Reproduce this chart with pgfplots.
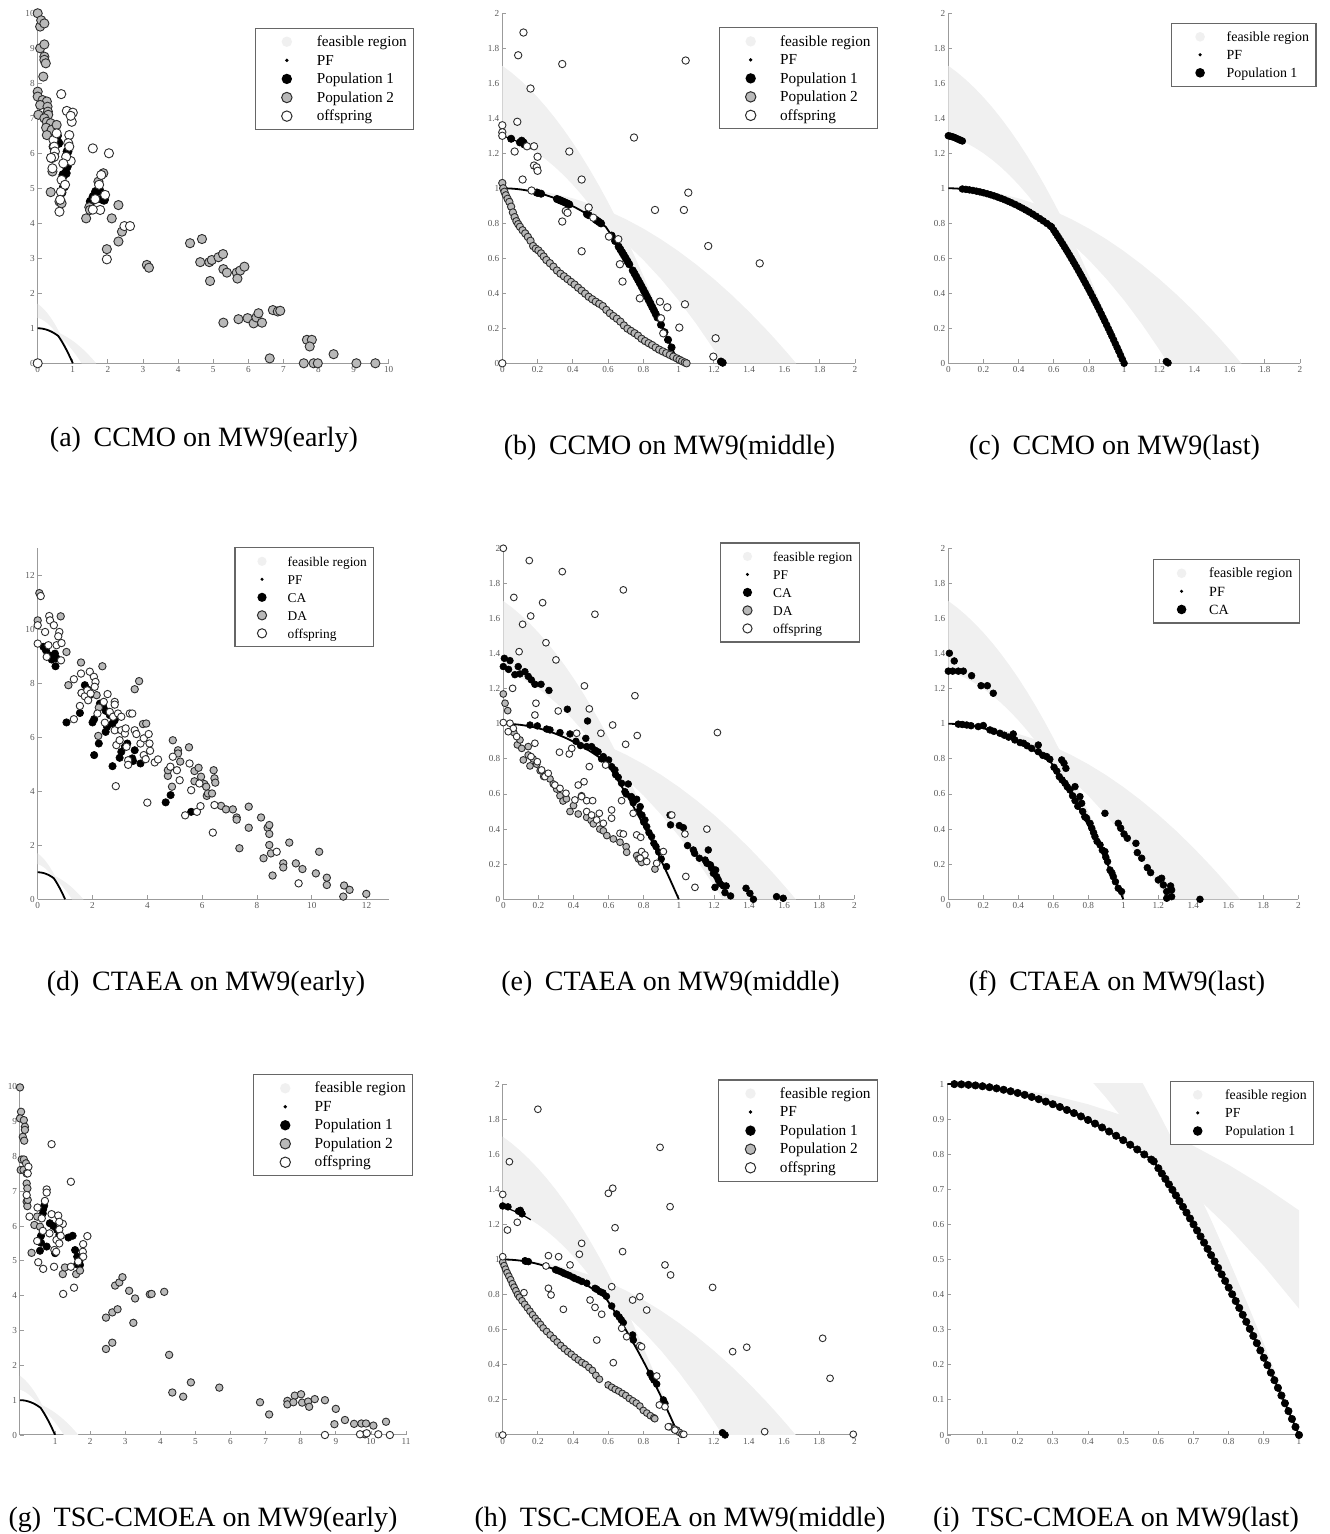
\documentclass[border=0pt]{standalone}
\usepackage{fontspec}
\setmainfont{Liberation Serif}
\usepackage{pgfplots}
\pgfplotsset{compat=1.18}
\usepackage{pgfplotstable}

\definecolor{feascol}{RGB}{240,240,240}
\definecolor{axcol}{RGB}{155,155,155}
\definecolor{tickcol}{RGB}{90,90,90}
\definecolor{p2col}{RGB}{185,185,185}
\definecolor{edgecol}{RGB}{45,45,45}

\pgfplotstableread{
x y
0 1
0.02 0.9997
0.04 0.999
0.06 0.9977
0.08 0.9959
0.10 0.9936
0.12 0.9908
0.14 0.9875
0.16 0.9836
0.18 0.9793
0.20 0.9744
0.22 0.9690
0.24 0.9631
0.26 0.9567
0.28 0.9498
0.30 0.9424
0.32 0.9345
0.34 0.9260
0.36 0.9171
0.38 0.9076
0.40 0.8976
0.42 0.8871
0.44 0.8761
0.46 0.8646
0.48 0.8525
0.50 0.8400
0.52 0.8269
0.54 0.8134
0.56 0.7993
0.58 0.7847
0.587 0.7795
0.60 0.7600
0.61 0.7449
0.62 0.7296
0.63 0.7141
0.64 0.6984
0.65 0.6825
0.66 0.6664
0.67 0.6501
0.68 0.6336
0.69 0.6169
0.70 0.6000
0.71 0.5829
0.72 0.5656
0.73 0.5481
0.74 0.5304
0.75 0.5125
0.76 0.4944
0.77 0.4761
0.78 0.4576
0.79 0.4389
0.80 0.4200
0.81 0.4009
0.82 0.3816
0.83 0.3621
0.84 0.3424
0.85 0.3225
0.86 0.3024
0.87 0.2821
0.88 0.2616
0.89 0.2409
0.90 0.2200
0.91 0.1989
0.92 0.1776
0.93 0.1561
0.94 0.1344
0.95 0.1125
0.96 0.0904
0.97 0.0681
0.98 0.0456
0.99 0.0229
1.00 0
}\pftable

\pgfplotstableread{
x y
0 1.3
0.04 1.2864
0.08 1.2696
0.12 1.2496
0.16 1.2264
}\pftwo

\pgfplotstableread{
x y
0 1.7
0.05 1.6625
0.1 1.62
0.15 1.5725
0.2 1.52
0.25 1.4625
0.3 1.4
0.35 1.3325
0.4 1.26
0.45 1.1825
0.5 1.1
0.55 1.0125
0.6 0.92
0.65 0.8225
0.7 0.72
0.75 0.6125
0.8 0.5
0.85 0.3825
0.9 0.26
0.95 0.1325
1.0 0
0.95 0.1125
0.9 0.22
0.85 0.3225
0.8 0.42
0.75 0.5125
0.7 0.6
0.65 0.6825
0.6 0.76
0.55 0.8325
0.5 0.9
0.45 0.9625
0.4 1.02
0.35 1.0725
0.3 1.12
0.25 1.1625
0.2 1.2
0.15 1.2325
0.1 1.26
0.05 1.2825
0 1.3
}\bandone

\pgfplotstableread{
x y
0 1
0.1 0.9964
0.2 0.9856
0.3 0.9676
0.4 0.9424
0.5 0.91
0.6 0.8704
0.7 0.8236
0.8 0.7696
0.9 0.7084
1.0 0.64
1.1 0.5644
1.2 0.4816
1.3 0.3916
1.4 0.2944
1.5 0.19
1.55 0.1351
1.62 0.0552
1.6667 0
1.25 0
1.2 0.0784
1.1 0.2256
1.0 0.36
0.9 0.4816
0.8 0.5904
0.7 0.6864
0.6 0.7696
0.5 0.84
0.4 0.8976
0.3 0.9424
0.2 0.9744
0.1 0.9936
0 1
}\bandtwo

\pgfplotsset{
  panel/.style={scale only axis, anchor=south west, xmin=0, ymin=0,
    axis lines*=left, axis line style={axcol, line width=0.5pt, -},
    tick style={axcol, line width=0.4pt}, tick align=inside, major tick length=2pt,
    ticklabel style={font=\fontsize{4.6}{5}\selectfont, text=tickcol, inner sep=1.3pt},
    /pgf/number format/assume math mode=true,
    legend cell align=left,
    legend style={at={(\lx,\ly)}, anchor=north east, draw=black!60, line width=0.6pt,
      fill=white, inner xsep=3.5pt, inner ysep=1.9pt, row sep=\lrs,
      font=\fontsize{\lf}{\lf}\selectfont,
      nodes={inner sep=0pt, text height=0.72em, text depth=0.25em}}},
  feas/.style={fill=feascol, draw=none, no marks, forget plot},
  pf/.style={black, line width=0.9pt, no marks, forget plot},
  pone/.style={only marks, mark=*, mark size=\ms, mark options={fill=black, draw=black, line width=0.3pt}, forget plot},
  ptwo/.style={only marks, mark=*, mark size=\ms, mark options={fill=p2col, draw=edgecol, line width=0.45pt}, forget plot},
  poff/.style={only marks, mark=*, mark size=\ms, mark options={fill=white, draw=edgecol, line width=0.45pt}, forget plot},
  lgfeas/.style={legend image code/.code={\path[draw=none,fill=none] (0pt,-1pt) rectangle (\lt,1pt); \path[draw=none,fill=feascol] (\lm,0) circle (\lr);}},
  lgpf/.style={legend image code/.code={\path[draw=none,fill=none] (0pt,-1pt) rectangle (\lt,1pt); \path[draw=none,fill=black] (\lm,0) circle (0.36*\lr);}},
  lgone/.style={legend image code/.code={\path[draw=none,fill=none] (0pt,-1pt) rectangle (\lt,1pt); \path[draw=none,fill=black] (\lm,0) circle (\lr);}},
  lgtwo/.style={legend image code/.code={\path[draw=none,fill=none] (0pt,-1pt) rectangle (\lt,1pt); \path[fill=p2col, draw=edgecol, line width=0.5pt] (\lm,0) circle (\lr);}},
  lgoff/.style={legend image code/.code={\path[draw=none,fill=none] (0pt,-1pt) rectangle (\lt,1pt); \path[fill=white, draw=edgecol, line width=0.5pt] (\lm,0) circle (\lr);}},
}
\newcommand{\legfive}[2]{%
  \addlegendimage{lgfeas}\addlegendentry{feasible region}
  \addlegendimage{lgpf}\addlegendentry{PF}
  \addlegendimage{lgone}\addlegendentry{#1}
  \addlegendimage{lgtwo}\addlegendentry{#2}
  \addlegendimage{lgoff}\addlegendentry{offspring}}
\newcommand{\legthree}[1]{%
  \addlegendimage{lgfeas}\addlegendentry{feasible region}
  \addlegendimage{lgpf}\addlegendentry{PF}
  \addlegendimage{lgone}\addlegendentry{#1}}
\newcommand{\feasplot}{%
  \addplot[feas] table {\bandone};
  \addplot[feas] table {\bandtwo};}

\begin{document}
\begin{tikzpicture}
\useasboundingbox (0,0) rectangle (664.5pt,767pt);

% ---------------- (a)
\def\ms{2.3pt}\def\lx{1.073}\def\ly{0.959}\def\lf{7.6}\def\lm{12pt}\def\lt{27pt}\def\lr{2.6pt}\def\lrs{-0.4pt}
\begin{axis}[panel, at={(18.85pt,585.35pt)}, width=175.5pt, height=175pt, xmax=10, ymax=10,
  xtick={0,1,2,3,4,5,6,7,8,9,10}, ytick={0,1,2,3,4,5,6,7,8,9,10}]
\legfive{Population 1}{Population 2}
\feasplot
\addplot[pf] table {\pftable};
\addplot[pone] coordinates {(0.45,6.19) (0.55,6.5) (0.59,6.29) (0.49,6.48) (0.68,4.88) (0.75,5.05) (0.73,5.38) (0.8,5.43) (0.85,6.05) (0.83,5.62) (1.51,4.62) (1.59,4.76) (1.66,4.9) (1.75,4.95) (1.85,4.69) (1.89,4.67) (0.5,6.4) (0.78,5.7)};
\addplot[ptwo] coordinates {(0,10.0) (0.07,9.62) (0.1,9.8) (0.19,9.71) (0.07,9.0) (0.19,9.11) (0.19,8.76) (0.19,8.67) (0.23,8.57) (0.16,8.19) (0,7.76) (0,7.62) (0.14,7.52) (0.26,7.48) (0.07,7.38) (0.28,7.33) (0.29,7.19) (0.3,7.1) (0.02,7.1) (0.19,7.0) (0.26,6.9) (0.37,6.86) (0.24,6.73) (0.4,6.67) (0.54,6.81) (0.26,6.52) (0.4,5.86) (0.42,5.48) (0.37,4.89) (0.62,4.62) (0.68,4.57) (1.38,4.14) (1.47,4.46) (1.49,4.38) (1.87,5.43) (1.73,5.19) (2.11,4.14) (2.3,4.52) (2.3,3.48) (2.4,3.76) (1.97,3.26) (3.11,2.81) (3.17,2.73) (4.34,3.43) (4.68,3.55) (4.63,2.89) (4.89,2.89) (4.96,2.95) (5.15,3.03) (5.28,3.12) (5.29,2.69) (5.39,2.59) (4.91,2.35) (5.67,2.59) (5.69,2.42) (5.77,2.65) (5.89,2.76) (5.29,1.16) (5.72,1.26) (5.98,1.29) (6.15,1.14) (6.23,1.31) (6.29,1.43) (6.39,1.16) (6.7,1.52) (6.84,1.48) (6.91,1.5) (6.61,0.14) (7.58,0) (7.67,0.67) (7.81,0.67) (7.75,0.48) (7.86,0) (7.98,0) (8.43,0.26) (9.08,0) (9.62,0)};
\addplot[poff] coordinates {(0,0) (0.67,7.69) (0.83,7.21) (1.0,7.16) (0.97,6.9) (0.94,7.07) (0.9,6.52) (0.87,6.29) (0.9,6.19) (0.94,5.78) (0.81,5.9) (0.45,6.38) (0.47,6.19) (0.49,6.05) (0.47,5.9) (0.42,5.57) (0.68,5.24) (0.66,4.9) (0.62,4.33) (0.73,5.71) (0.78,5.1) (0.54,6.57) (0.64,4.67) (1.57,6.14) (2.03,6.0) (1.81,5.38) (1.75,5.1) (1.64,4.69) (1.78,4.38) (1.92,4.81) (2.47,3.92) (2.63,3.92) (1.97,2.97) (0.38,5.87) (1.57,4.39)};
\end{axis}

% ---------------- (b)
\def\ms{1.85pt}\def\lx{1.066}\def\ly{0.96}\def\lf{7.65}\def\lm{12.1pt}\def\lt{26.8pt}\def\lr{2.6pt}\def\lrs{-0.45pt}
\begin{axis}[panel, at={(251.15pt,585.35pt)}, width=176.3pt, height=175pt, xmax=2, ymax=2,
  xtick={0,0.2,0.4,0.6,0.8,1,1.2,1.4,1.6,1.8,2}, ytick={0,0.2,0.4,0.6,0.8,1,1.2,1.4,1.6,1.8,2}]
\legfive{Population 1}{Population 2}
\feasplot
\addplot[pf] table {\pftable};
\addplot[pf, line width=0.6pt] table {\pftwo};
\addplot[pone] coordinates {(0.05,1.283) (0.1,1.262) (0.11,1.272) (0.12,1.262) (0.125,1.25) (0.195,0.9757) (0.2,0.9744) (0.22,0.969) (0.31,0.9385) (0.32,0.9345) (0.33,0.9303) (0.34,0.926) (0.35,0.9216) (0.36,0.9171) (0.37,0.9124) (0.38,0.9076) (0.48,0.8525) (0.49,0.8463) (0.53,0.8202) (0.54,0.8134) (0.55,0.8064) (0.56,0.7993) (0.62,0.7296) (0.64,0.6984) (0.66,0.6664) (0.67,0.6501) (0.68,0.6336) (0.69,0.6169) (0.70,0.6) (0.71,0.5829) (0.72,0.5656) (0.74,0.5304) (0.75,0.5125) (0.76,0.4944) (0.77,0.4761) (0.78,0.4576) (0.79,0.4389) (0.80,0.42) (0.81,0.4009) (0.82,0.3816) (0.83,0.3621) (0.84,0.3424) (0.85,0.3225) (0.86,0.3024) (0.87,0.2821) (0.88,0.2616) (0.90,0.22) (0.92,0.1776) (0.94,0.1344) (0.96,0.0904) (1.24,0.01) (1.25,0.003)};
\addplot[ptwo] coordinates {(0,1.03) (0.005,1.0) (0.012,0.98) (0.02,0.96) (0.03,0.94) (0.04,0.922) (0.05,0.895) (0.06,0.862) (0.07,0.835) (0.08,0.812) (0.09,0.795) (0.10,0.78) (0.115,0.76) (0.13,0.742) (0.145,0.722) (0.16,0.70) (0.175,0.67) (0.19,0.655) (0.205,0.645) (0.22,0.628) (0.235,0.61) (0.25,0.59) (0.27,0.572) (0.29,0.552) (0.31,0.53) (0.33,0.512) (0.35,0.497) (0.37,0.481) (0.39,0.465) (0.41,0.45) (0.43,0.432) (0.45,0.415) (0.47,0.398) (0.49,0.38) (0.51,0.366) (0.53,0.352) (0.55,0.34) (0.57,0.327) (0.59,0.305) (0.61,0.286) (0.63,0.27) (0.65,0.255) (0.67,0.238) (0.69,0.216) (0.71,0.198) (0.73,0.185) (0.75,0.172) (0.77,0.158) (0.79,0.14) (0.81,0.127) (0.83,0.115) (0.85,0.104) (0.87,0.09) (0.89,0.078) (0.91,0.068) (0.93,0.058) (0.95,0.048) (0.97,0.038) (0.99,0.028) (1.005,0.02) (1.02,0.012) (1.035,0.005) (1.045,0)};
\addplot[poff] coordinates {(0,0) (0.12,1.89) (0.09,1.76) (0.34,1.71) (0.16,1.57) (0,1.36) (0,1.32) (0,1.3) (0.085,1.38) (0.07,1.21) (0.14,1.24) (0.18,1.24) (0.2,1.18) (0.18,1.13) (0.195,1.12) (0.2,1.1) (0.115,1.05) (0.38,1.21) (0.45,1.05) (0.166,0.987) (0.34,0.81) (0.36,0.87) (0.37,0.86) (0.45,0.64) (0.49,0.89) (0.516,0.832) (0.605,0.724) (0.658,0.709) (0.667,0.566) (0.682,0.467) (0.747,1.29) (0.78,0.371) (0.866,0.876) (0.894,0.352) (0.936,0.32) (0.913,0.171) (0.9,0.257) (1.03,0.876) (1.055,0.975) (1.04,1.73) (1.004,0.204) (1.036,0.337) (1.168,0.67) (1.21,0.143) (1.197,0.038) (1.46,0.571)};
\end{axis}

% ---------------- (c)
\def\ms{1.7pt}\def\lx{1.0475}\def\ly{0.973}\def\lf{6.96}\def\lm{10.7pt}\def\lt{24pt}\def\lr{2.4pt}\def\lrs{-0.7pt}
\begin{axis}[panel, at={(474.15pt,585.35pt)}, width=175.8pt, height=175pt, xmax=2, ymax=2,
  xtick={0,0.2,0.4,0.6,0.8,1,1.2,1.4,1.6,1.8,2}, ytick={0,0.2,0.4,0.6,0.8,1,1.2,1.4,1.6,1.8,2}]
\legthree{Population 1}
\feasplot
\addplot[pf] table {\pftable};
\addplot[pone, restrict x to domain=0.07:1.01] table {\pftable};
\addplot[pone] coordinates {(0,1.3) (0.01,1.298) (0.02,1.295) (0.03,1.292) (0.04,1.288) (0.05,1.283) (0.06,1.279) (0.07,1.274) (0.08,1.27) (1.24,0.01) (1.25,0.002)};
\end{axis}

% ---------------- (d)
\def\ms{1.85pt}\def\lx{0.96}\def\ly{1.003}\def\lf{6.7}\def\lm{10pt}\def\lt{22.8pt}\def\lr{2.3pt}\def\lrs{-0.7pt}
\begin{axis}[panel, at={(18.85pt,317.35pt)}, width=175.4pt, height=175.5pt, xmax=12.8, ymax=13,
  xtick={0,2,4,6,8,10,12}, ytick={0,2,4,6,8,10,12}]
\legfive{CA}{DA}
\feasplot
\addplot[pf] table {\pftable};
\addplot[pone] coordinates {(0.21,9.35) (0.3,9.22) (0.42,9.04) (0.51,8.88) (0.63,9.1) (0.69,8.92) (0.65,8.63) (1.05,6.55) (1.54,6.9) (1.6,7.64) (1.72,7.93) (1.82,7.77) (1.9,7.56) (2.0,6.55) (2.06,6.67) (2.06,5.34) (2.23,5.77) (2.27,7.25) (2.39,7.13) (2.48,6.98) (2.48,6.2) (2.53,6.39) (2.63,6.82) (2.73,6.51) (2.73,4.93) (2.81,6.63) (2.99,5.24) (3.05,5.46) (3.18,5.65) (3.27,5.77) (3.45,5.22) (3.48,5.12) (3.54,5.52) (3.75,5.03) (4.67,3.59) (4.85,3.86) (5.6,3.24)};
\addplot[ptwo] coordinates {(0.06,11.34) (0,10.33) (0.84,10.48) (1.05,9.16) (1.12,7.93) (1.58,8.77) (2.36,8.63) (2.15,7.56) (2.23,7.1) (2.21,6.05) (3.54,7.78) (3.7,8.08) (3.84,6.49) (3.96,6.51) (4.93,5.89) (4.75,4.57) (4.75,4.78) (4.9,4.17) (5.12,5.52) (5.12,5.4) (5.2,5.1) (5.52,5.63) (5.72,4.75) (5.87,4.87) (5.72,4.37) (5.96,4.54) (6.08,4.27) (6.15,4.17) (6.17,3.83) (6.21,3.92) (6.36,3.92) (6.42,4.78) (6.45,4.48) (6.48,4.32) (6.69,3.46) (6.87,3.33) (7.12,3.33) (7.26,3.03) (7.26,2.95) (7.36,1.89) (7.7,3.43) (7.7,2.65) (8.15,3.03) (8.24,1.52) (8.39,2.65) (8.45,2.75) (8.45,2.42) (8.45,2.01) (8.51,1.7) (8.57,0.88) (9.18,2.1) (8.96,1.33) (8.96,1.18) (9.42,1.33) (9.66,1.12) (10.15,0.96) (10.27,1.76) (10.55,0.8) (10.55,0.53) (11.15,0.1) (11.18,0.51) (11.38,0.35) (11.99,0.2)};
\addplot[poff] coordinates {(0,10.15) (0,9.47) (0.11,11.23) (0.42,10.49) (0.45,10.33) (0.27,9.9) (0.59,10.15) (0.79,9.9) (0.75,9.74) (0.69,9.41) (0.87,9.49) (0.39,9.41) (0.33,8.98) (0.85,8.85) (1.32,8.15) (1.32,6.67) (1.54,7.16) (1.58,8.36) (1.6,7.64) (1.72,7.52) (1.84,7.37) (1.81,7.74) (1.9,8.43) (2.05,8.24) (2.11,8.05) (2.08,7.87) (1.93,7.62) (2.55,7.6) (2.41,7.31) (2.81,7.31) (2.81,7.21) (2.63,6.94) (2.18,6.88) (2.45,6.54) (2.75,6.76) (2.93,6.88) (3.05,6.76) (2.81,6.26) (2.87,5.71) (3.05,6.26) (3.18,6.14) (3.21,6.33) (2.99,5.89) (3.24,5.65) (3.3,5.15) (3.3,4.98) (3.36,6.88) (3.45,6.88) (3.54,6.26) (3.6,6.12) (3.75,5.77) (3.87,5.96) (4.05,6.12) (3.87,5.34) (4.08,5.77) (3.94,5.19) (4.1,5.5) (4.27,5.07) (4.39,5.18) (2.85,4.19) (4.0,3.58) (4.84,4.91) (4.93,5.28) (5.18,4.41) (5.08,4.78) (5.38,3.11) (5.54,5.03) (5.6,4.04) (5.81,3.24) (5.94,3.45) (5.9,4.29) (6.39,2.47) (6.45,3.49) (9.52,0.59) (8.72,1.76)};
\end{axis}

% ---------------- (e)
\def\ms{1.7pt}\def\lx{1.016}\def\ly{1.017}\def\lf{6.7}\def\lm{10pt}\def\lt{22.8pt}\def\lr{2.3pt}\def\lrs{-0.7pt}
\begin{axis}[panel, at={(251.65pt,317.35pt)}, width=175.5pt, height=175.5pt, xmax=2, ymax=2,
  xtick={0,0.2,0.4,0.6,0.8,1,1.2,1.4,1.6,1.8,2}, ytick={0,0.2,0.4,0.6,0.8,1,1.2,1.4,1.6,1.8,2}]
\legfive{CA}{DA}
\feasplot
\addplot[pf] table {\pftable};
\addplot[pone] coordinates {(0,1.326) (0.006,1.373) (0.038,1.36) (0.03,1.31) (0.066,1.28) (0.085,1.326) (0.095,1.284) (0.123,1.297) (0.142,1.27) (0.16,1.25) (0.18,1.225) (0.215,1.225) (0.26,1.19) (0.365,1.083) (0.48,1.016) (0.47,0.917) (0.152,0.993) (0.194,0.988) (0.247,0.97) (0.266,0.965) (0.323,0.95) (0.38,0.942) (0.414,0.9) (0.44,0.876) (0.475,0.87) (0.503,0.87) (0.522,0.85) (0.54,0.84) (0.56,0.80) (0.57,0.813) (0.59,0.79) (0.6,0.794) (0.617,0.756) (0.636,0.737) (0.64,0.71) (0.655,0.695) (0.674,0.661) (0.712,0.657) (0.693,0.613) (0.70,0.60) (0.73,0.585) (0.74,0.55) (0.76,0.57) (0.77,0.50) (0.78,0.528) (0.79,0.48) (0.80,0.44) (0.807,0.452) (0.817,0.414) (0.83,0.38) (0.845,0.357) (0.858,0.319) (0.87,0.30) (0.885,0.27) (0.9,0.23) (0.93,0.186) (0.95,0.48) (0.953,0.424) (1.003,0.42) (1.026,0.408) (1.05,0.306) (1.083,0.281) (1.09,0.262) (1.117,0.234) (1.15,0.224) (1.168,0.281) (1.16,0.205) (1.18,0.196) (1.187,0.177) (1.197,0.148) (1.21,0.167) (1.216,0.129) (1.225,0.11) (1.235,0.09) (1.254,0.076) (1.27,0.076) (1.263,0.038) (1.295,0.019) (1.383,0.063) (1.405,0.034) (1.425,0) (1.557,0.015) (1.595,0.006) (1.206,0.068)};
\addplot[ptwo] coordinates {(0,1.17) (0.01,1.117) (0.025,1.075) (0.06,0.95) (0.08,0.88) (0.095,0.908) (0.105,0.86) (0.114,0.794) (0.142,0.822) (0.142,0.87) (0.152,0.76) (0.17,0.80) (0.19,0.77) (0.21,0.733) (0.23,0.70) (0.247,0.714) (0.266,0.686) (0.285,0.657) (0.304,0.628) (0.323,0.59) (0.34,0.56) (0.36,0.572) (0.38,0.50) (0.4,0.534) (0.427,0.486) (0.446,0.59) (0.475,0.467) (0.5,0.45) (0.513,0.43) (0.55,0.4) (0.57,0.39) (0.59,0.363) (0.627,0.344) (0.665,0.325) (0.7,0.3) (0.703,0.268) (0.76,0.249) (0.77,0.23) (0.788,0.21) (0.864,0.172)};
\addplot[poff] coordinates {(0,2.0) (0.148,1.93) (0.336,1.867) (0.684,1.763) (0.06,1.72) (0.224,1.69) (0.156,1.614) (0.522,1.624) (0.11,1.567) (0.243,1.462) (0.09,1.411) (0.3,1.364) (0.053,1.202) (0.462,1.216) (0.75,1.16) (0.186,1.117) (0.18,1.05) (0.313,1.073) (0.49,1.085) (0.623,0.993) (0.556,0.946) (0.763,0.933) (0.697,0.883) (1.22,0.95) (0.32,0.838) (0.376,0.828) (0.39,0.86) (0.418,0.946) (0.49,0.756) (0.583,0.765) (0,1.007) (0.038,1.003) (0.057,0.974) (0.028,0.955) (0.076,0.927) (0.18,0.889) (0.158,0.813) (0.194,0.784) (0.218,0.737) (0.237,0.699) (0.256,0.718) (0.294,0.651) (0.323,0.632) (0.357,0.604) (0.408,0.566) (0.427,0.651) (0.46,0.67) (0.446,0.585) (0.475,0.562) (0.509,0.562) (0.475,0.5) (0.503,0.48) (0.547,0.49) (0.532,0.452) (0.57,0.433) (0.617,0.509) (0.617,0.462) (0.665,0.376) (0.684,0.372) (0.674,0.562) (0.74,0.49) (0.76,0.367) (0.783,0.353) (0.788,0.272) (0.807,0.253) (0.78,0.234) (0.817,0.215) (0.874,0.205) (0.912,0.272) (0.96,0.48) (1.035,0.372) (1.04,0.13) (1.092,0.068) (1.16,0.4)};
\end{axis}

% ---------------- (f)
\def\ms{1.7pt}\def\lx{1.005}\def\ly{0.969}\def\lf{7.04}\def\lm{10.7pt}\def\lt{24.5pt}\def\lr{2.4pt}\def\lrs{-0.65pt}
\begin{axis}[panel, at={(474.15pt,317.35pt)}, width=175pt, height=175.5pt, xmax=2, ymax=2,
  xtick={0,0.2,0.4,0.6,0.8,1,1.2,1.4,1.6,1.8,2}, ytick={0,0.2,0.4,0.6,0.8,1,1.2,1.4,1.6,1.8,2}]
\legthree{CA}
\feasplot
\addplot[pf] table {\pftable};
\addplot[pone] coordinates {(0.006,1.402) (0,1.3) (0.025,1.3) (0.057,1.3) (0.086,1.3) (0.034,1.358) (0.133,1.274) (0.187,1.217) (0.223,1.217) (0.257,1.174) (0.057,0.998) (0.08,0.996) (0.105,0.993) (0.13,0.989) (0.171,0.984) (0.2,0.99) (0.238,0.965) (0.26,0.957) (0.295,0.946) (0.32,0.935) (0.345,0.924) (0.371,0.942) (0.38,0.908) (0.41,0.893) (0.43,0.889) (0.45,0.875) (0.476,0.86) (0.514,0.879) (0.514,0.841) (0.54,0.82) (0.562,0.813) (0.58,0.798) (0.604,0.752) (0.648,0.794) (0.661,0.775) (0.672,0.746) (0.62,0.73) (0.634,0.699) (0.65,0.68) (0.667,0.661) (0.68,0.64) (0.695,0.623) (0.71,0.59) (0.724,0.642) (0.724,0.562) (0.74,0.53) (0.752,0.585) (0.762,0.547) (0.768,0.5) (0.78,0.47) (0.79,0.462) (0.81,0.433) (0.82,0.405) (0.83,0.38) (0.838,0.357) (0.85,0.33) (0.867,0.31) (0.88,0.28) (0.895,0.272) (0.9,0.24) (0.91,0.215) (0.924,0.167) (0.935,0.15) (0.943,0.129) (0.955,0.1) (0.971,0.063) (0.99,0.044) (0.895,0.49) (0.971,0.433) (0.985,0.405) (1.004,0.372) (1.023,0.348) (1.072,0.319) (1.08,0.266) (1.105,0.234) (1.137,0.18) (1.156,0.152) (1.2,0.11) (1.219,0.12) (1.229,0.082) (1.248,0.044) (1.248,0.006) (1.27,0.076) (1.276,0.053) (1.276,0.015) (1.438,0)};
\end{axis}

% ---------------- (g)
\def\ms{1.85pt}\def\lx{1.019}\def\ly{1.036}\def\lf{7.7}\def\lm{12.3pt}\def\lt{27pt}\def\lr{2.6pt}\def\lrs{-0.45pt}
\begin{axis}[panel, at={(10pt,49.5pt)}, width=193pt, height=174.15pt, xmax=11, ymax=10,
  xtick={1,2,3,4,5,6,7,8,9,10,11}, ytick={0,1,2,3,4,5,6,7,8,9,10}]
\legfive{Population 1}{Population 2}
\feasplot
\addplot[pf] table {\pftable};
\addplot[pone] coordinates {(0.69,6.58) (0.66,6.48) (0.65,6.36) (0.6,5.72) (0.6,5.52) (0.57,5.29) (0.76,5.41) (0.85,6.08) (0.95,6.0) (1.06,5.89) (1.12,5.74) (1.0,5.22) (1.38,5.67) (1.5,5.72) (1.57,5.31) (1.63,5.12) (1.69,4.98) (1.71,4.88) (1.63,4.9)};
\addplot[ptwo] coordinates {(0,9.98) (0.03,9.28) (0,9.09) (0.11,9.04) (0.14,8.85) (0.08,8.56) (0.12,8.45) (0.14,8.76) (0.05,7.91) (0.11,7.91) (0.02,7.61) (0.1,7.61) (0.17,7.8) (0.19,7.51) (0.19,7.22) (0.21,7.08) (0.19,6.7) (0.21,6.57) (0.22,6.75) (0.41,6.03) (0.49,6.27) (0.57,5.98) (0.33,5.23) (1.22,4.62) (1.28,4.81) (1.6,4.62) (1.71,4.72) (2.45,3.37) (2.63,3.52) (2.71,4.29) (2.83,4.38) (2.92,4.53) (2.78,3.61) (3.11,4.14) (3.28,3.92) (3.23,3.22) (3.7,4.04) (3.75,4.05) (4.11,4.11) (2.45,2.47) (2.63,2.65) (4.25,2.3) (4.34,1.22) (4.65,1.1) (4.87,1.51) (5.68,1.36) (6.84,0.94) (7.1,0.59) (7.62,0.98) (7.62,0.88) (7.83,1.13) (7.79,0.94) (8.01,1.17) (8.04,0.93) (8.21,0.96) (8.24,0.81) (8.4,1.03) (8.69,1.0) (8.96,0.31) (9.0,0.75) (9.26,0.43) (9.52,0.32) (9.73,0.33) (9.86,0.33) (10.07,0.27) (10.43,0.38) (9.83,0.02)};
\addplot[poff] coordinates {(0.9,8.35) (1.45,7.27) (0.27,6.27) (0.19,6.89) (0.24,7.7) (0.22,7.51) (0.5,6.53) (0.76,7.05) (0.76,6.96) (0.71,6.72) (0.62,6.22) (0.9,6.34) (1.09,6.3) (1.22,6.06) (1.12,6.12) (1.12,5.9) (0.84,5.79) (0.65,5.86) (1.04,5.6) (1.12,5.5) (1.16,5.72) (0.98,5.31) (1.03,5.26) (1.92,5.71) (1.8,5.48) (1.79,5.26) (1.8,5.12) (1.66,4.98) (0.52,4.96) (0.97,4.83) (0.66,4.77) (1.45,4.83) (1.54,4.23) (1.23,4.05) (0.49,5.57) (8.69,0) (9.69,0.02) (9.88,0.05) (10.21,0.02) (10.54,0)};
\end{axis}

% ---------------- (h)
\def\ms{1.7pt}\def\lx{1.068}\def\ly{1.013}\def\lf{7.67}\def\lm{12.3pt}\def\lt{27pt}\def\lr{2.6pt}\def\lrs{-0.42pt}
\begin{axis}[panel, at={(251.35pt,49.5pt)}, width=175.8pt, height=175.5pt, xmax=2, ymax=2,
  xtick={0,0.2,0.4,0.6,0.8,1,1.2,1.4,1.6,1.8,2}, ytick={0,0.2,0.4,0.6,0.8,1,1.2,1.4,1.6,1.8,2}]
\legfive{Population 1}{Population 2}
\feasplot
\addplot[pf] table {\pftable};
\addplot[pf, line width=0.6pt] table {\pftwo};
\addplot[pone] coordinates {(0,1.305) (0.03,1.3) (0.1,1.28) (0.11,1.26) (0.09,1.275) (1.25,0.013) (1.265,0) (0.127,0.993) (0.146,0.988) (0.13,0.99) (0.3,0.942) (0.31,0.938) (0.326,0.932) (0.34,0.926) (0.35,0.92) (0.364,0.915) (0.38,0.908) (0.4,0.898) (0.41,0.892) (0.43,0.884) (0.45,0.875) (0.478,0.865) (0.525,0.836) (0.535,0.83) (0.553,0.817) (0.57,0.81) (0.59,0.79) (0.62,0.735) (0.648,0.69) (0.663,0.672) (0.675,0.655) (0.686,0.64) (0.739,0.57) (0.743,0.541) (0.838,0.351) (0.85,0.33) (0.86,0.313) (0.876,0.29) (0.914,0.2) (0.923,0.18)};
\addplot[ptwo] coordinates {(0,0.985) (0.008,0.965) (0.016,0.945) (0.025,0.925) (0.035,0.905) (0.045,0.885) (0.055,0.862) (0.065,0.842) (0.075,0.822) (0.085,0.8) (0.095,0.785) (0.11,0.765) (0.125,0.745) (0.14,0.725) (0.155,0.705) (0.17,0.685) (0.185,0.665) (0.2,0.648) (0.215,0.63) (0.23,0.61) (0.25,0.59) (0.27,0.57) (0.29,0.55) (0.31,0.53) (0.33,0.51) (0.35,0.492) (0.37,0.475) (0.39,0.46) (0.41,0.443) (0.43,0.428) (0.45,0.413) (0.47,0.402) (0.49,0.385) (0.51,0.368) (0.53,0.34) (0.55,0.318) (0.6,0.285) (0.62,0.272) (0.64,0.26) (0.66,0.25) (0.68,0.237) (0.7,0.225) (0.72,0.208) (0.74,0.195) (0.76,0.182) (0.78,0.165) (0.8,0.14) (0.82,0.125) (0.84,0.11) (0.86,0.098) (0.865,0.093) (0.95,0.047) (0.975,0.035) (0.99,0.028) (1.005,0.015) (1.02,0.004)};
\addplot[poff] coordinates {(0,0) (1.994,0.004) (0.2,1.856) (0.038,1.557) (0,1.371) (0.083,1.212) (0.027,1.168) (0,1.016) (0.26,1.022) (0.318,1.016) (0.383,0.969) (0.436,1.03) (0.449,1.092) (0.246,0.963) (0.121,0.811) (0.26,0.836) (0.275,0.798) (0.345,0.716) (0.497,0.769) (0.525,0.727) (0.563,0.688) (0.535,0.541) (0.601,1.377) (0.626,1.406) (0.639,1.181) (0.682,1.045) (0.629,0.412) (0.62,0.845) (0.895,1.639) (0.952,1.301) (0.923,0.969) (0.955,0.912) (1.194,0.841) (1.308,0.475) (1.388,0.5) (1.82,0.551) (1.862,0.323) (1.49,0.019) (0.739,0.769) (0.78,0.788) (0.819,0.712) (0.677,0.608) (0.705,0.56) (0.78,0.509) (0.79,0.503) (0.876,0.336) (0.891,0.171) (0.923,0.161) (0.942,0.047) (0.98,0.028) (1.03,0.004)};
\end{axis}

% ---------------- (i)
\def\ms{1.85pt}\def\lx{1.0435}\def\ly{1.0094}\def\lf{6.9}\def\lm{10.3pt}\def\lt{24pt}\def\lr{2.4pt}\def\lrs{-0.65pt}
\begin{axis}[panel, at={(473.65pt,49.5pt)}, width=175.85pt, height=175.5pt, xmax=1, ymax=1,
  xtick={0,0.1,0.2,0.3,0.4,0.5,0.6,0.7,0.8,0.9,1}, ytick={0,0.1,0.2,0.3,0.4,0.5,0.6,0.7,0.8,0.9,1}]
\legthree{Population 1}
\feasplot
\addplot[pf] table {\pftable};
\addplot[pone, restrict x to domain=0.015:1.01] table {\pftable};
\end{axis}

% ---------------- captions
\begin{scope}[every node/.style={anchor=base, font=\fontsize{14}{16}\selectfont, inner sep=0pt}]
\node at (102pt,543.5pt) {(a)\hspace{0.45em}CCMO on MW9(early)};
\node at (334.75pt,539.5pt) {(b)\hspace{0.45em}CCMO on MW9(middle)};
\node at (557.25pt,539.5pt) {(c)\hspace{0.45em}CCMO on MW9(last)};
\node at (103pt,271.5pt) {(d)\hspace{0.45em}CTAEA on MW9(early)};
\node at (335.25pt,271.5pt) {(e)\hspace{0.45em}CTAEA on MW9(middle)};
\node at (558.5pt,271.5pt) {(f)\hspace{0.45em}CTAEA on MW9(last)};
\node at (101.5pt,3.5pt) {(g)\hspace{0.45em}TSC-CMOEA on MW9(early)};
\node at (340pt,3.5pt) {(h)\hspace{0.45em}TSC-CMOEA on MW9(middle)};
\node at (558pt,3.5pt) {(i)\hspace{0.45em}TSC-CMOEA on MW9(last)};
\end{scope}
\end{tikzpicture}
\end{document}
